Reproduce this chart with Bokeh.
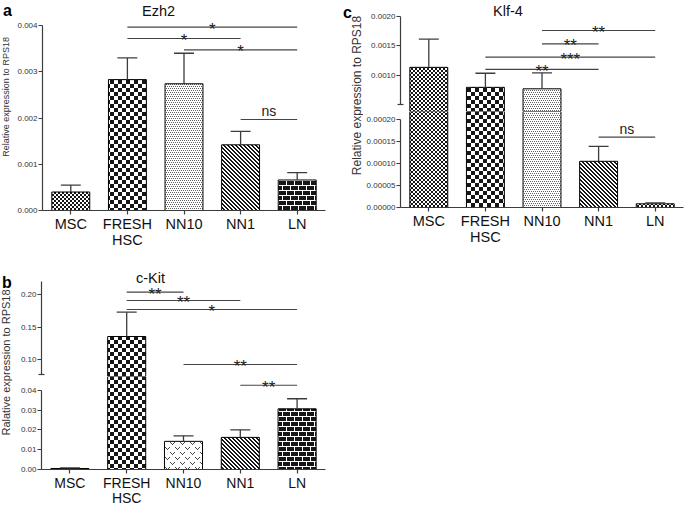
import math, zlib, struct, base64
from bokeh.plotting import figure
from bokeh.models import Range1d, FixedTicker, PrintfTickFormatter, ColumnDataSource, ImageURLTexture
from bokeh.layouts import row, column
from bokeh.embed import file_html
from bokeh.resources import INLINE
from bokeh.core.properties import value, field

FONT = "Liberation Sans"
AX = "#3c3c3c"

# ---------------- data ----------------
categories = ["MSC", "FRESH\nHSC", "NN10", "NN1", "LN"]
positions = [0, 1, 2, 3, 4]

ezh2_mean = [0.00040, 0.00283, 0.00274, 0.00142, 0.00066]
ezh2_err = [0.00015, 0.00047, 0.00066, 0.00029, 0.00016]

ckit_mean = [0.0005, 0.1357, 0.0142, 0.0162, 0.0306]
ckit_err = [0.0003, 0.0372, 0.0028, 0.0038, 0.0051]

klf4_mean = [0.00113, 0.00079, 0.000765, 0.000105, 0.0000084]
klf4_err = [0.00048, 0.00024, 0.00027, 0.000034, 0.000002]

# significance brackets: (from, to, level, label)
ezh2_sig = [(1, 4, 0.003963, "*"), (1, 3, 0.003719, "*"), (2, 4, 0.003475, "*"), (3, 4, 0.001968, "ns")]
ckit_sig = [(1, 2, 0.2035, "**"), (1, 3, 0.1908, "**"), (1, 4, 0.1770, "*"), (2, 4, 0.0928, "**"), (3, 4, 0.0425, "**")]
klf4_sig = [(2, 4, 0.001757, "**"), (2, 3, 0.001531, "**"), (1, 4, 0.001303, "***"), (1, 3, 0.001094, "**"), (3, 4, 0.0001598, "ns")]

ezh2_ticks = [0.0, 0.001, 0.002, 0.003, 0.004]
ckit_ticks_hi = [0.10, 0.15, 0.20]
ckit_ticks_lo = [0.0, 0.01, 0.02, 0.03, 0.04]
klf4_ticks_hi = [0.0010, 0.0015, 0.0020]
klf4_ticks_lo = [0.0, 0.00005, 0.0001, 0.00015, 0.0002]


# ---------------- fill textures (small PNG tiles) ----------------
def png_url(w, h, fn):
    raw = b""
    for yy in range(h):
        raw += b"\x00" + bytes([c for xx in range(w) for c in fn(xx, yy)])

    def chunk(t, d):
        return struct.pack(">I", len(d)) + t + d + struct.pack(">I", zlib.crc32(t + d) & 0xffffffff)
    png = (b"\x89PNG\r\n\x1a\n" + chunk(b"IHDR", struct.pack(">IIBBBBB", w, h, 8, 6, 0, 0, 0))
           + chunk(b"IDAT", zlib.compress(raw)) + chunk(b"IEND", b""))
    return "data:image/png;base64," + base64.b64encode(png).decode()


K = (22, 22, 22, 255)
W = (255, 255, 255, 255)
G = (70, 70, 70, 255)
S = (95, 95, 95, 255)
VEE_PIX = {(1, 1), (2, 2), (3, 3), (4, 2), (5, 1)}
VEE_PIX |= {((x + 5) % 10, (y + 5) % 10) for (x, y) in VEE_PIX}
DOTS = ((0, 0), (2, 0), (1, 2), (3, 2))

TEX = {
    "fine": ImageURLTexture(url=png_url(4, 4, lambda x, y: K if ((x // 2) + (y // 2)) % 2 == 0 else W)),
    "checker": ImageURLTexture(url=png_url(8, 8, lambda x, y: K if ((x // 4) + (y // 4)) % 2 == 0 else W)),
    "stipple": ImageURLTexture(url=png_url(4, 4, lambda x, y: S if (x, y) in DOTS else W)),
    "vee": ImageURLTexture(url=png_url(10, 10, lambda x, y: G if (x, y) in VEE_PIX else W)),
    "diag": ImageURLTexture(url=png_url(4, 4, lambda x, y: K if (x - y) % 4 in (0, 1) else W)),
    "brick": ImageURLTexture(url=png_url(8, 10, lambda x, y: W if (y in (0, 5) or (y < 5 and x == 0) or (y > 5 and x == 4)) else K)),
}
pat_a = ["fine", "checker", "stipple", "diag", "brick"]
scl_a = [4, 8, 4, 4, 8]
pat_b = ["fine", "checker", "vee", "diag", "brick"]
scl_b = [4, 8, 10, 4, 8]
pat_c = ["fine", "checker", "stipple", "diag", "fine"]
scl_c = [4, 8, 4, 4, 4]


# ---------------- helpers ----------------
def base_fig(w, h, xr, yr, mbl, mbr, mbb, xaxis):
    p = figure(width=w, height=h, x_range=xr, y_range=yr, output_backend="svg",
               toolbar_location=None, tools="", min_border_left=mbl, min_border_right=mbr,
               min_border_top=0, min_border_bottom=mbb,
               x_axis_location="below" if xaxis else None, y_axis_location="left")
    p.grid.visible = False
    p.outline_line_color = None
    p.background_fill_color = "white"
    p.border_fill_color = "white"
    return p


def style_y(p, ticks, fmt, bounds, minor=None):
    ax = p.yaxis[0]
    ax.ticker = FixedTicker(ticks=ticks, minor_ticks=minor or [])
    ax.formatter = PrintfTickFormatter(format=fmt)
    ax.bounds = bounds
    ax.axis_line_color = AX
    ax.axis_line_width = 1.2
    ax.major_tick_line_color = AX
    ax.major_tick_line_width = 1.2
    ax.major_tick_out = 4
    ax.major_tick_in = 0
    ax.minor_tick_line_color = AX if minor else None
    ax.minor_tick_line_width = 1.2
    ax.minor_tick_in = 3
    ax.minor_tick_out = 3
    ax.major_label_standoff = 1
    ax.major_label_text_font = FONT
    ax.major_label_text_font_size = "8px"
    ax.major_label_text_color = "#333333"


def style_x(p, size, lh):
    ax = p.xaxis[0]
    ax.ticker = FixedTicker(ticks=positions)
    ax.major_label_overrides = {i: c for i, c in zip(positions, categories)}
    ax.axis_line_color = AX
    ax.axis_line_width = 1.2
    ax.major_tick_line_color = AX
    ax.major_tick_line_width = 1.2
    ax.major_tick_out = 4
    ax.major_tick_in = 0
    ax.minor_tick_line_color = None
    ax.major_label_standoff = 1
    ax.major_label_text_font = FONT
    ax.major_label_text_font_size = size
    ax.major_label_text_color = "#111111"
    ax.major_label_text_line_height = lh


def bars(p, mean, err, pats, scales):
    src = ColumnDataSource(dict(x=positions, top=mean, pat=pats, hs=scales))
    p.vbar(x="x", top="top", bottom=0, width=0.67, source=src, fill_color="white",
           line_color="black", line_width=1, hatch_pattern=field("pat"),
           hatch_scale=field("hs"), hatch_extra=TEX, hatch_color="black")
    up = [m + e for m, e in zip(mean, err)]
    p.segment(x0=positions, y0=mean, x1=positions, y1=up, line_color=AX, line_width=1.3)
    p.segment(x0=[x - 0.176 for x in positions], y0=up, x1=[x + 0.176 for x in positions], y1=up,
              line_color=AX, line_width=1.3)


def sig(p, items, k, lo, hi):
    x0, x1, ys, tx, ty, tt, fs = [], [], [], [], [], [], []
    for (i, j, lev, lab) in items:
        if not (lo <= lev <= hi):
            continue
        x0.append(i); x1.append(j); ys.append(lev)
        tx.append((i + j) / 2)
        tt.append(lab)
        if lab == "ns":
            ty.append(lev + 8.3 / k); fs.append("14px")
        else:
            ty.append(lev - 2.0 / k); fs.append("17px")
    if not x0:
        return
    p.segment(x0=x0, y0=ys, x1=x1, y1=ys, line_color="#444444", line_width=1.2)
    src = ColumnDataSource(dict(x=tx, y=ty, t=tt, fs=fs))
    p.text(x="x", y="y", text="t", source=src, text_font=value(FONT), text_font_size=field("fs"),
           text_align="center", text_baseline="alphabetic", text_color="#222222")


def title(p, x, y, t):
    p.text(x=[x], y=[y], text=[t], text_font=value(FONT), text_font_size="14.5px",
           text_align="center", text_baseline="alphabetic", text_color="#111111")


def label_fig(w, h, letter, lx, ly, ylab, yx, yy, yfs):
    p = figure(width=w, height=h, x_range=Range1d(0, w), y_range=Range1d(0, h), output_backend="svg",
               toolbar_location=None, tools="", min_border=0, x_axis_location=None, y_axis_location=None)
    p.grid.visible = False
    p.outline_line_color = None
    p.text(x=[lx], y=[ly], text=[letter], text_font=value(FONT), text_font_size="16px",
           text_font_style="bold", text_align="center", text_baseline="alphabetic", text_color="black")
    p.text(x=[yx], y=[yy], text=[ylab], angle=math.pi / 2, text_font=value(FONT), text_font_size=yfs,
           text_align="center", text_baseline="middle", text_color="#333333")
    return p


# ---------------- panel a : Ezh2 ----------------
ka = 46250.0
ya1 = 210 / ka
La = label_fig(14, 256, "a", 7, 244, "Relative expression to RPS18", 5, 138.5, "9px")
Fa = base_fig(327, 256, Range1d(-0.5, 4.5), Range1d(0, ya1), 27, 16, 46, True)
style_y(Fa, ezh2_ticks, "%.3f", (0.0, 0.004))
style_x(Fa, "14.5px", 1.05)
bars(Fa, ezh2_mean, ezh2_err, pat_a, scl_a)
sig(Fa, ezh2_sig, ka, 0, ya1)
title(Fa, 1.551, 0.004309, "Ezh2")

# ---------------- panel b : c-Kit (broken axis) ----------------
kbt = 653.0
yb0 = 0.10 - 16.7 / kbt
yb1 = yb0 + 120 / kbt
kbb = 2025.0
ybb1 = 95 / kbb
xb = Range1d(-0.5, 4.5)
Fb_top = base_fig(327, 120, xb, Range1d(yb0, yb1), 27, 16, 0, False)
style_y(Fb_top, ckit_ticks_hi, "%.2f", (0.078, 0.2205), minor=[0.078])
bars(Fb_top, ckit_mean, ckit_err, pat_b, scl_b)
sig(Fb_top, ckit_sig, kbt, yb0, yb1)
title(Fb_top, 1.419, 0.2257, "c-Kit")

Fb_bot = base_fig(327, 132, xb, Range1d(0, ybb1), 27, 16, 37, True)
style_y(Fb_bot, ckit_ticks_lo, "%.2f", (0.0, 0.04))
style_x(Fb_bot, "14px", 0.95)
bars(Fb_bot, ckit_mean, ckit_err, pat_b, scl_b)
sig(Fb_bot, ckit_sig, kbb, 0, ybb1)
Lb = label_fig(14, 252, "b", 6.5, 226, "Ralative expression to RPS18", 5, 146, "11px")

# ---------------- panel c : Klf-4 (broken axis) ----------------
kct = 58800.0
yc1 = 0.0020 + 15.7 / kct
yc0 = yc1 - 111 / kct
kcb = 440000.0
ycb1 = 96 / kcb
xc = Range1d(-0.5, 4.5)
Fc_top = base_fig(321, 111, xc, Range1d(yc0, yc1), 37, 1, 0, False)
style_y(Fc_top, klf4_ticks_hi, "%.4f", (0.0005, 0.0020), minor=[0.0005])
bars(Fc_top, klf4_mean, klf4_err, pat_c, scl_c)
sig(Fc_top, klf4_sig, kct, yc0, yc1)
title(Fc_top, 1.399, 0.00208, "Klf-4")

Fc_bot = base_fig(321, 145, xc, Range1d(0, ycb1), 37, 1, 49, True)
style_y(Fc_bot, klf4_ticks_lo, "%.5f", (0.0, 0.0002))
style_x(Fc_bot, "14.5px", 1.05)
bars(Fc_bot, klf4_mean, klf4_err, pat_c, scl_c)
sig(Fc_bot, klf4_sig, kcb, 0, ycb1)
Lc = label_fig(22, 256, "c", 6, 244, "Relative expression to RPS18", 15, 161, "12px")

layout = row(
    column(row(La, Fa), row(Lb, column(Fb_top, Fb_bot))),
    row(Lc, column(Fc_top, Fc_bot)),
)

open("out.html", "w").write(file_html(layout, INLINE))
